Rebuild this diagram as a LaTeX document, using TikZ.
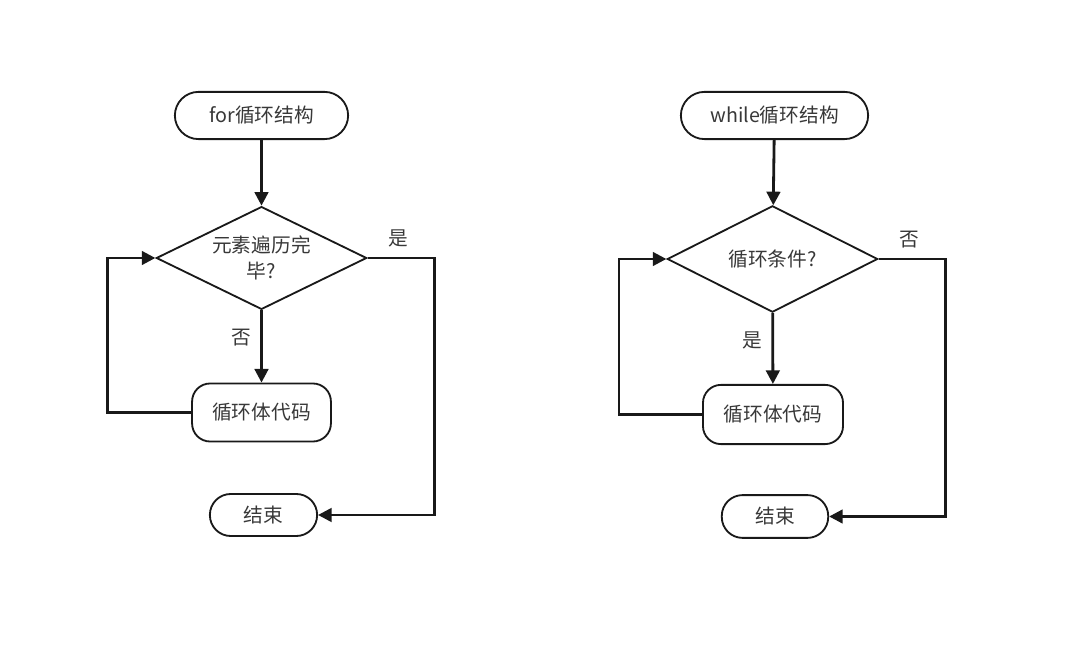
\documentclass[tikz,border=0pt]{standalone}
\usepackage{fontspec}
\setmainfont{Noto Sans CJK SC}
\usetikzlibrary{shapes.geometric,arrows.meta}

\begin{document}
\begin{tikzpicture}[x=0.025cm,y=-0.025cm,
    every node/.style={font=\fontsize{14}{19}\selectfont,text=black!78},
    terminal/.style={draw=black!90,line width=1.3pt,rounded corners=0.52cm,minimum height=1.1cm,inner sep=0pt},
    process/.style={draw=black!90,line width=1.3pt,rounded corners=0.45cm,minimum width=3.47cm,minimum height=1.45cm,inner sep=0pt},
    decision/.style={draw=black!90,line width=1.3pt,diamond,minimum width=5.26cm,minimum height=2.57cm,inner sep=0pt},
    arr/.style={draw=black!90,line width=2pt,-{Triangle[length=0.34cm,width=0.34cm]}}]
  \useasboundingbox (0,0) rectangle (1080,648);

  % for
  \node[terminal,minimum width=4.33cm,minimum height=1.18cm,rounded corners=0.59cm] (start1) at (261.5,115.5) {for循环结构};
  \node[decision,label={[align=center]center:{元素遍历完\\毕?}}] (cond1) at (261.5,258) {};
  \node[process] (body1) at (261.5,412.5) {循环体代码};
  \node[terminal,minimum width=2.68cm,minimum height=1.05cm] (end1) at (263.5,515) {结束};
  \draw[arr] (start1) -- (cond1);
  \draw[arr] (cond1) -- node[pos=0.38,left=3pt] {否} (body1);
  \draw[arr] (body1.west) -- ++(-84,0) |- (cond1.west);
  \draw[arr] (cond1.east) -- ++(67,0) |- (end1.east);
  \node (yes1) at (398,238) {是};

  % while
  \node[terminal,minimum width=4.68cm,minimum height=1.18cm,rounded corners=0.59cm] (start2) at (774.5,115.5) {while循环结构};
  \node[decision,minimum height=2.6cm] (cond2) at (772.5,259) {循环条件?};
  \node[process,minimum width=3.5cm,minimum height=1.48cm] (body2) at (773,414.5) {循环体代码};
  \node[terminal,minimum width=2.66cm,minimum height=1.07cm] (end2) at (775,516.5) {结束};
  \draw[arr] (start2) -- (cond2);
  \draw[arr] (cond2) -- node[pos=0.38,left=3pt] {是} (body2);
  \draw[arr] (body2.west) -- ++(-83,0) |- (cond2.west);
  \draw[arr] (cond2.east) -- ++(67,0) |- (end2.east);
  \node (no2) at (909,240) {否};
\end{tikzpicture}
\end{document}
